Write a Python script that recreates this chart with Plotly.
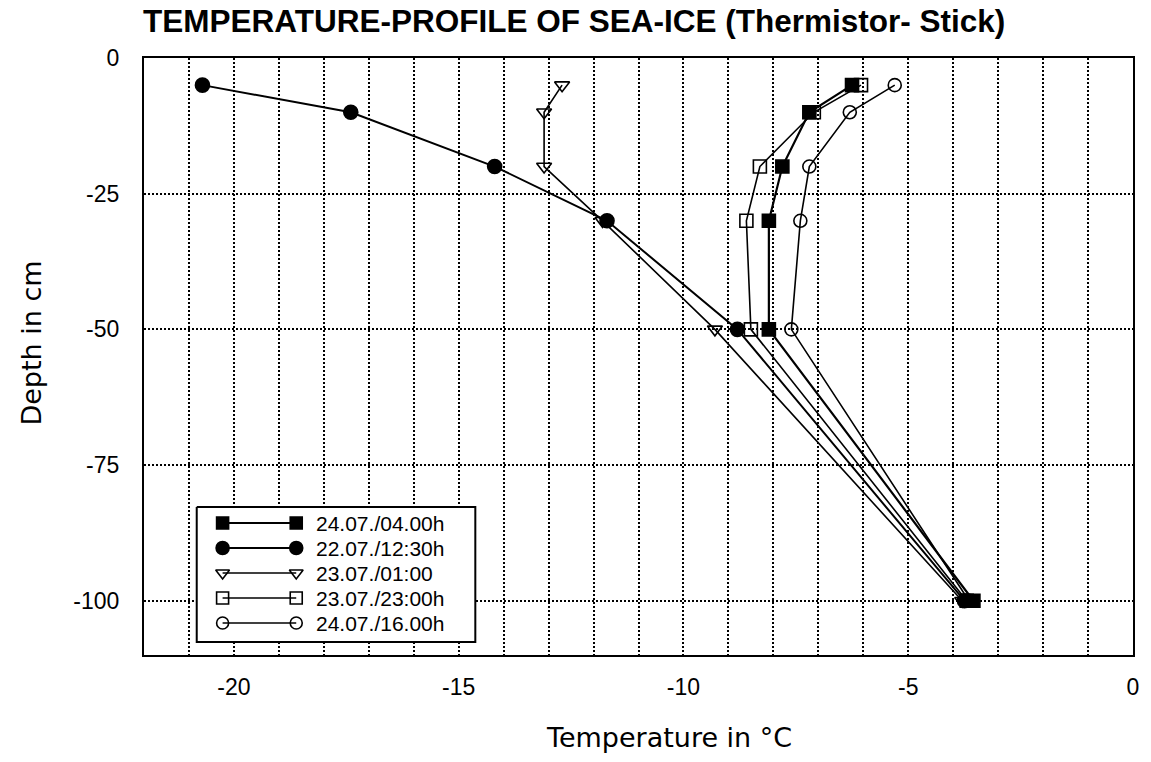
import plotly.graph_objects as go

# Thermistor depths (cm) and temperature profiles (°C)
depth_cm = [-5, -10, -20, -30, -50, -100]

temp_2407_0400 = [-6.25, -7.2, -7.8, -8.1, -8.1, -3.55]
temp_2207_1230 = [-20.7, -17.4, -14.2, -11.7, -8.8, -3.75]
temp_2307_0100 = [-12.7, -13.1, -13.1, -11.8, -9.3, -3.8]
temp_2307_2300 = [-6.05, -7.1, -8.3, -8.6, -8.5, -3.7]
temp_2407_1600 = [-5.3, -6.3, -7.2, -7.4, -7.6, -3.65]

series_names = ["24.07./04.00h", "22.07./12:30h", "23.07./01:00", "23.07./23:00h", "24.07./16.00h"]
series_temps = [temp_2407_0400, temp_2207_1230, temp_2307_0100, temp_2307_2300, temp_2407_1600]
series_symbols = ["square", "circle", "triangle-down-open", "square-open", "circle-open"]
series_sizes = [13, 14, 13, 13, 13]
series_widths = [2.2, 2.0, 1.6, 1.6, 1.6]

x_ticks = [-20, -15, -10, -5, 0]
y_ticks = [0, -25, -50, -75, -100]

W, H = 1151, 762
L, R, T, B = 144, 13, 58, 107
PW, PH = W - L - R, H - T - B


def px_to_paper(px, py):
    """Convert page pixel position to paper (plot-area) fractions."""
    return (px - L) / PW, (H - B - py) / PH


fig = go.Figure()

for name, temps, sym, size, lw in zip(series_names, series_temps, series_symbols,
                                       series_sizes, series_widths):
    fig.add_trace(go.Scatter(
        x=temps, y=depth_cm, mode="lines+markers", name=name,
        line=dict(color="black", width=lw),
        marker=dict(symbol=sym, size=size, color="black",
                    line=dict(color="black", width=1.6)),
        showlegend=False,
    ))

# Legend panel drawn on a pixel-based overlay axis (marker at both ends of each line)
leg_left, leg_right, leg_top, leg_bottom = 197, 477, 507, 642
row_y0, row_step = 523, 25
sym_x0, sym_x1, text_x = 223, 297, 315

fig.add_trace(go.Scatter(
    x=[leg_left, leg_right, leg_right, leg_left, leg_left],
    y=[leg_top, leg_top, leg_bottom, leg_bottom, leg_top],
    xaxis="x2", yaxis="y2", mode="lines", fill="toself", fillcolor="white",
    line=dict(color="black", width=2), showlegend=False, hoverinfo="skip",
))

for i, (name, sym, size, lw) in enumerate(zip(series_names, series_symbols,
                                              series_sizes, series_widths)):
    yy = row_y0 + i * row_step
    fig.add_trace(go.Scatter(
        x=[sym_x0, sym_x1], y=[yy, yy], xaxis="x2", yaxis="y2",
        mode="lines+markers", showlegend=False, hoverinfo="skip",
        line=dict(color="black", width=lw),
        marker=dict(symbol=sym, size=size - 1, color="black",
                    line=dict(color="black", width=1.6)),
    ))
    fig.add_annotation(x=text_x, y=yy, xref="x2", yref="y2", text=name,
                       showarrow=False, xanchor="left", yanchor="middle",
                       font=dict(family="Liberation Sans, Arial", size=21, color="black"))

# Axis titles placed as annotations
xt_x, xt_y = px_to_paper(672, 738)
fig.add_annotation(x=xt_x, y=xt_y, xref="paper", yref="paper",
                   text="Temperature in °C", showarrow=False,
                   xanchor="center", yanchor="middle",
                   font=dict(family="DejaVu Sans", size=27, color="black"))
yt_x, yt_y = px_to_paper(30, 343)
fig.add_annotation(x=yt_x, y=yt_y, xref="paper", yref="paper",
                   text="Depth in cm", showarrow=False, textangle=-90,
                   xanchor="center", yanchor="middle",
                   font=dict(family="DejaVu Sans", size=27, color="black"))

grid_dash = "2px,2px"

fig.update_layout(
    width=W, height=H,
    margin=dict(l=L, r=R, t=T, b=B),
    paper_bgcolor="white", plot_bgcolor="white",
    title=dict(text="<b>TEMPERATURE-PROFILE OF SEA-ICE (Thermistor- Stick)</b>",
               xref="container", yref="container",
               x=143 / W, xanchor="left", y=1 - 21 / H, yanchor="middle",
               font=dict(family="Liberation Sans, Arial", size=31.5, color="black")),
    xaxis=dict(
        range=[-22, 0], tickvals=x_ticks, ticktext=[str(v) for v in x_ticks],
        showgrid=True, gridcolor="black", gridwidth=1.8, griddash=grid_dash,
        minor=dict(dtick=1, tick0=0, showgrid=True, gridcolor="black",
                   gridwidth=1.8, griddash=grid_dash),
        showline=True, linecolor="black", linewidth=2.2, mirror=True,
        ticks="", zeroline=False, ticklabelstandoff=10,
        tickfont=dict(family="Liberation Sans, Arial", size=23, color="black"),
    ),
    yaxis=dict(
        range=[-110, 0], tickvals=y_ticks, ticktext=[str(v) for v in y_ticks],
        showgrid=True, gridcolor="black", gridwidth=1.8, griddash=grid_dash,
        showline=True, linecolor="black", linewidth=2.2, mirror=True,
        ticks="", zeroline=False, ticklabelstandoff=18,
        tickfont=dict(family="Liberation Sans, Arial", size=23, color="black"),
    ),
    xaxis2=dict(overlaying="x", range=[L, W - R], visible=False, fixedrange=True),
    yaxis2=dict(overlaying="y", range=[H - B, T], visible=False, fixedrange=True),
    showlegend=False,
)

fig.write_html("out.html")
